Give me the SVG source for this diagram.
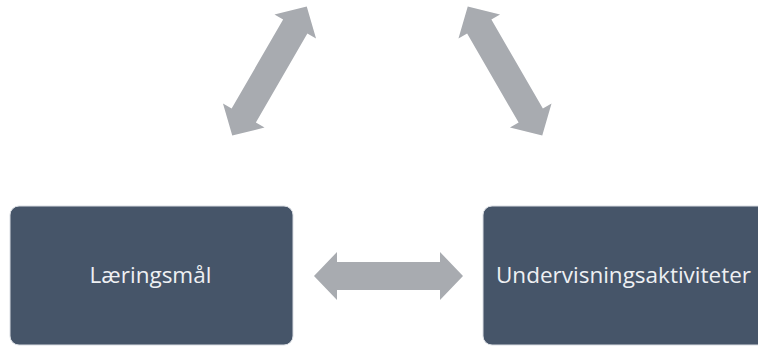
<svg xmlns="http://www.w3.org/2000/svg" width="758" height="347" viewBox="0 0 758 347">
<defs>
<style>
.box{fill:#465569;stroke:#d9dde3;stroke-width:1}
.lbl{font-family:"Open Sans","Liberation Sans",sans-serif;font-size:22.5px;fill:#eef0f3;text-anchor:middle;dominant-baseline:central}
.arr{fill:#a8abb0}
</style>
<polygon id="dbl" points="-74.5,0 -51.5,-24 -51.5,-14 51.5,-14 51.5,-24 74.5,0 51.5,24 51.5,14 -51.5,14 -51.5,24"/>
</defs>
<rect width="758" height="347" fill="#ffffff"/>
<g id="connectors">
<use href="#dbl" class="arr" transform="translate(269.5,71) rotate(-60)"/>
<use href="#dbl" class="arr" transform="translate(505,71) rotate(60)"/>
<use href="#dbl" class="arr" transform="translate(388.5,276)"/>
</g>
<g id="node-laeringsmal">
<rect class="box" x="10" y="206" width="283" height="139" rx="9"/>
<text class="lbl" x="150.5" y="274">Læringsmål</text>
</g>
<g id="node-undervisningsaktiviteter">
<rect class="box" x="483" y="206" width="290" height="139" rx="9"/>
<text class="lbl" x="623.5" y="274">Undervisningsaktiviteter</text>
</g>
</svg>
